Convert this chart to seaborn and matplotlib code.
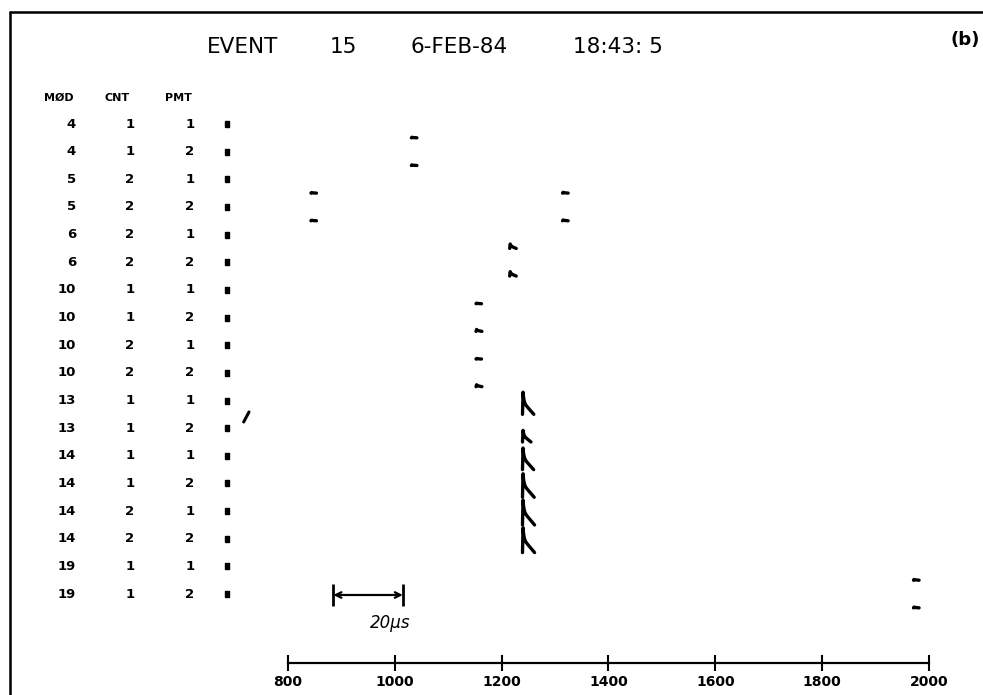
import numpy as np
import pandas as pd
import matplotlib
matplotlib.use("Agg")
import matplotlib.pyplot as plt
import matplotlib.transforms as mtransforms
from matplotlib.lines import Line2D
import seaborn as sns

# ---- event header -------------------------------------------------------
title_parts = ["EVENT", "15", "6-FEB-84", "18:43: 5"]
panel_tag = "(b)"
column_names = ["MØD", "CNT", "PMT"]

# ---- channel list (one row per photomultiplier) -------------------------
module = [4, 4, 5, 5, 6, 6, 10, 10, 10, 10, 13, 13, 14, 14, 14, 14, 19, 19]
counter = [1, 1, 2, 2, 2, 2, 1, 1, 2, 2, 1, 1, 1, 1, 2, 2, 1, 1]
pmt = [1, 2, 1, 2, 1, 2, 1, 2, 1, 2, 1, 2, 1, 2, 1, 2, 1, 2]

# ---- recorded pulses: channel row, arrival time, amplitude (row heights) -
pulse_row = [0, 1, 2, 2, 3, 3, 4, 5, 6, 7, 8, 9, 10, 11, 12, 13, 14, 15, 16, 17]
pulse_time = [1032, 1032, 844, 1315, 844, 1315, 1216, 1216, 1153, 1153,
              1153, 1153, 1240, 1240, 1240, 1240, 1240, 1240, 1972, 1972]
pulse_amp = [0.02, 0.02, 0.02, 0.03, 0.02, 0.03, 0.16, 0.16, 0.02, 0.07,
             0.02, 0.07, 0.80, 0.42, 0.78, 0.85, 0.90, 0.90, 0.03, 0.03]

time_ticks = [800, 1000, 1200, 1400, 1600, 1800, 2000]
scale_bar = [885, 1015]
scale_label = "20\u03bcs"

# ---- figure -------------------------------------------------------------
sns.set_theme(style="white")
plt.rcParams["font.family"] = ["DejaVu Sans"]
plt.rcParams["text.color"] = "black"
plt.rcParams["xtick.color"] = "black"
plt.rcParams["axes.labelcolor"] = "black"

W, H = 983, 695
fig = plt.figure(figsize=(W / 100, H / 100), dpi=100)
fig.patch.set_facecolor("white")

row0_px, row_step = 124.0, 27.65          # text row 0 centre and row pitch
ax_left, ax_right, ax_top, ax_bottom = 288, 929, 80, 663
ax = fig.add_axes([ax_left / W, 1 - ax_bottom / H,
                   (ax_right - ax_left) / W, (ax_bottom - ax_top) / H])
ax.set_facecolor("white")
ax.set_xlim(time_ticks[0], time_ticks[-1])
ax.set_ylim((ax_bottom - row0_px) / row_step, (ax_top - row0_px) / row_step)

# pulse traces: fast rise, a quick spike decay and a slower linear tail
frames = []
for k, (r, t, a) in enumerate(zip(pulse_row, pulse_time, pulse_amp)):
    base = r + 0.5
    tail = 9 + 14 * a
    xs = np.concatenate([[t - 1.0], np.linspace(t, t + tail, 40)])
    dx = xs[1:] - t
    shape = 0.45 * np.exp(-dx / 1.6) + 0.55 * np.clip(1 - dx / tail, 0, 1)
    ys = np.concatenate([[base], base - a * shape])
    frames.append(pd.DataFrame({"t": xs, "y": ys, "pulse": k}))
traces = pd.concat(frames, ignore_index=True)
sns.lineplot(data=traces, x="t", y="y", units="pulse", estimator=None,
             sort=False, color="black", lw=2.4, ax=ax, legend=False)

# time axis
for s in ["left", "top", "right"]:
    ax.spines[s].set_visible(False)
ax.spines["bottom"].set_linewidth(1.6)
ax.spines["bottom"].set_color("black")
ax.set_xticks(time_ticks)
ax.set_xticklabels([str(v) for v in time_ticks], fontsize=10,
                   fontweight="semibold")
ax.tick_params(axis="x", direction="inout", length=12, width=1.5,
               colors="black", pad=3, bottom=True)
ax.set_yticks([])
ax.set_xlabel("")
ax.set_ylabel("")
ax.grid(False)

# channel table on the left
tr = mtransforms.blended_transform_factory(fig.transFigure, ax.transData)
hdr_y = (98 - row0_px) / row_step
for name, xc in zip(column_names, [59, 117, 178]):
    ax.text(xc / W, hdr_y, name, transform=tr, ha="center", va="center",
            fontsize=8, fontweight="bold", clip_on=False)
for i, (m, c, p) in enumerate(zip(module, counter, pmt)):
    ax.text(76 / W, i, str(m), transform=tr, ha="right", va="center",
            fontsize=9.5, fontweight="bold", clip_on=False)
    ax.text(130 / W, i, str(c), transform=tr, ha="center", va="center",
            fontsize=9.5, fontweight="bold", clip_on=False)
    ax.text(190 / W, i, str(p), transform=tr, ha="center", va="center",
            fontsize=9.5, fontweight="bold", clip_on=False)
blob = [(-0.55, -1), (0.55, -1), (0.55, 1), (-0.55, 1), (-0.55, -1)]
ax.scatter(np.full(len(module), 227 / W), np.arange(len(module)),
           transform=tr, marker=blob, s=20, color="black", clip_on=False)

# stray pen mark beside the channel list
ax.plot([717, 727], [(422 - row0_px) / row_step, (412 - row0_px) / row_step],
        color="black", lw=2.2, clip_on=False, solid_capstyle="round")

# 20 microsecond scale bar
bar_y = (595 - row0_px) / row_step
ax.annotate("", xy=(scale_bar[0], bar_y), xytext=(scale_bar[1], bar_y),
            arrowprops=dict(arrowstyle="<->", color="black", lw=1.6,
                            shrinkA=0, shrinkB=0, mutation_scale=10))
ax.vlines(scale_bar, bar_y - 0.38, bar_y + 0.38, color="black", lw=2)
ax.text(991, (623 - row0_px) / row_step, scale_label, ha="center",
        va="center", fontsize=12, fontstyle="italic")

# header line
for txt, xl in zip(title_parts, [207, 330, 410, 573]):
    fig.text(xl / W, 1 - 47 / H, txt, ha="left", va="center", fontsize=15.5)
fig.text(965 / W, 1 - 40 / H, panel_tag, ha="center", va="center",
         fontsize=13, fontweight="bold")

# outer frame (top and left edges)
fig.add_artist(Line2D([10 / W, 10 / W], [0, 1 - 12 / H], color="black", lw=1.8))
fig.add_artist(Line2D([10 / W, 1], [1 - 12 / H, 1 - 12 / H], color="black", lw=1.8))

fig.savefig("out.png", dpi=100, facecolor="white")
